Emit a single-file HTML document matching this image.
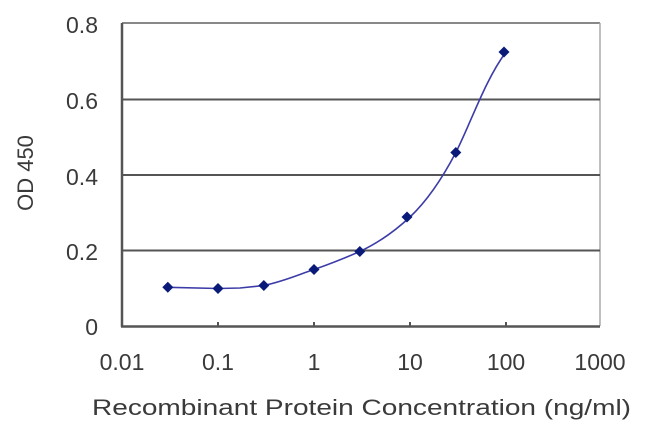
<!DOCTYPE html>
<html><head><style>
html,body{margin:0;padding:0;background:#fff;}
svg{display:block;}
text{font-family:"Liberation Sans",Arial,sans-serif;fill:#3a3a3a;}
</style></head><body>
<svg width="650" height="433" viewBox="0 0 650 433" xmlns="http://www.w3.org/2000/svg">
<rect width="650" height="433" fill="#fff"/>
<!-- plot frame -->
<line x1="122" y1="23" x2="600" y2="23" stroke="#888" stroke-width="2"/>
<line x1="600" y1="23" x2="600" y2="326" stroke="#aaa" stroke-width="1.5"/>
<line x1="122" y1="99.5" x2="600" y2="99.5" stroke="#555" stroke-width="2"/>
<line x1="122" y1="175" x2="600" y2="175" stroke="#555" stroke-width="2"/>
<line x1="122" y1="250.5" x2="600" y2="250.5" stroke="#555" stroke-width="2"/>
<line x1="122" y1="23" x2="122" y2="327" stroke="#555" stroke-width="2.5"/>
<line x1="121" y1="326.5" x2="600" y2="326.5" stroke="#555" stroke-width="2.5"/>
<g stroke="#555" stroke-width="2">
<line x1="218" y1="322" x2="218" y2="327"/>
<line x1="314" y1="322" x2="314" y2="327"/>
<line x1="410" y1="322" x2="410" y2="327"/>
<line x1="506" y1="322" x2="506" y2="327"/>
</g>
<!-- y labels -->
<g font-size="23" text-anchor="end">
<text x="98" y="33">0.8</text>
<text x="98" y="109">0.6</text>
<text x="98" y="185">0.4</text>
<text x="98" y="260">0.2</text>
<text x="98" y="335">0</text>
</g>
<!-- x labels -->
<g font-size="23" text-anchor="middle">
<text x="122" y="370">0.01</text>
<text x="218" y="370">0.1</text>
<text x="314" y="370">1</text>
<text x="410" y="370">10</text>
<text x="506" y="370">100</text>
<text x="600" y="370">1000</text>
</g>
<text x="92" y="415" font-size="22" textLength="539" lengthAdjust="spacingAndGlyphs">Recombinant Protein Concentration (ng/ml)</text>
<text transform="translate(33,173) rotate(-90)" font-size="22" text-anchor="middle">OD 450</text>
<!-- curve -->
<path d="M167.8,287.3 L218,288.5 L240,288 L263.8,285.5 C285,281 300,274 314,269.5 C330,264 345,258 359.8,251.5 C378,243 395,231 410,217 C428,200 443,177 455.8,152.5 C470,125 485,80 506,52" fill="none" stroke="#3c3ca8" stroke-width="1.6"/>
<g fill="#0a1a78">
<path d="M167.8,281.8 l5.5,5.5 l-5.5,5.5 l-5.5,-5.5z"/>
<path d="M218,283 l5.5,5.5 l-5.5,5.5 l-5.5,-5.5z"/>
<path d="M263.8,280 l5.5,5.5 l-5.5,5.5 l-5.5,-5.5z"/>
<path d="M314,264 l5.5,5.5 l-5.5,5.5 l-5.5,-5.5z"/>
<path d="M359.8,246 l5.5,5.5 l-5.5,5.5 l-5.5,-5.5z"/>
<path d="M407,211.5 l5.5,5.5 l-5.5,5.5 l-5.5,-5.5z"/>
<path d="M455.8,147 l5.5,5.5 l-5.5,5.5 l-5.5,-5.5z"/>
<path d="M504,46.5 l5.5,5.5 l-5.5,5.5 l-5.5,-5.5z"/>
</g>
</svg>
</body></html>
